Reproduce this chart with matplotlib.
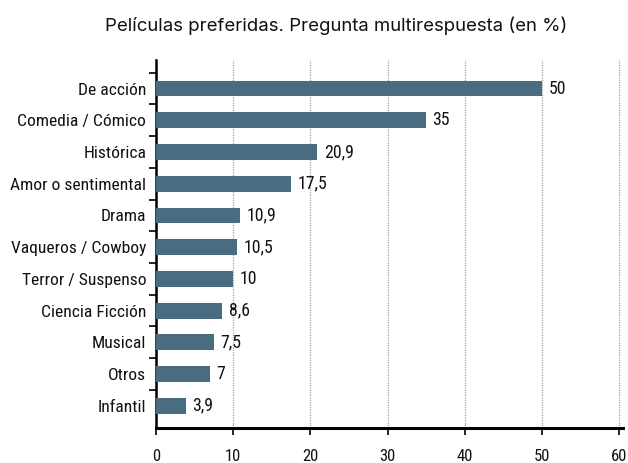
import matplotlib
matplotlib.use("Agg")
import matplotlib.pyplot as plt
from matplotlib.ticker import FixedLocator
import logging

logging.getLogger("matplotlib.font_manager").setLevel(logging.ERROR)

categories = ["De acción", "Comedia / Cómico", "Histórica", "Amor o sentimental",
              "Drama", "Vaqueros / Cowboy", "Terror / Suspenso", "Ciencia Ficción",
              "Musical", "Otros", "Infantil"]
values = [50, 35, 20.9, 17.5, 10.9, 10.5, 10, 8.6, 7.5, 7, 3.9]
value_labels = ["50", "35", "20,9", "17,5", "10,9", "10,5", "10", "8,6", "7,5", "7", "3,9"]
x_ticks = [0, 10, 20, 30, 40, 50, 60]
title = "Películas preferidas. Pregunta multirespuesta (en %)"

narrow = ["Liberation Sans Narrow", "Roboto Condensed", "Archivo Narrow", "DejaVu Sans"]
bar_color = "#486d80"
text_color = "#111111"

fig = plt.figure(figsize=(6.28, 4.63), dpi=100)
ax = fig.add_axes([0.2484, 0.0756, 0.992 - 0.2484, 0.8704 - 0.0756])

pos = list(range(len(categories)))
ax.barh(pos, values, height=0.5, color=bar_color, zorder=3)

ax.set_xlim(0, 60.45)
ax.set_ylim(10.7, -0.9)

for p, v, lab in zip(pos, values, value_labels):
    ax.annotate(lab, xy=(v, p), xytext=(4.5, 0), textcoords="offset points",
                va="center", ha="left", fontsize=12.8, family=narrow, color=text_color)

ax.set_yticks(pos)
ax.set_yticklabels(categories, family=narrow, fontsize=12.6, color=text_color)
ax.tick_params(axis="y", which="major", length=0, pad=7)
ax.yaxis.set_minor_locator(FixedLocator([p - 0.5 for p in pos]))
ax.tick_params(axis="y", which="minor", length=5, width=1.2, direction="out", color="black")

ax.set_xticks(x_ticks)
ax.set_xticklabels([str(t) for t in x_ticks], family=narrow, fontsize=12, color=text_color)
ax.tick_params(axis="x", length=5, width=1.2, direction="out", pad=10)

ax.grid(axis="x", linestyle=(0, (1, 1)), color="#a0a0a0", linewidth=0.9, zorder=0)
ax.set_axisbelow(True)

for s in ["top", "right"]:
    ax.spines[s].set_visible(False)
ax.spines["left"].set_linewidth(1.8)
ax.spines["bottom"].set_linewidth(2.2)

fig.text(0.535, 0.944, title, ha="center", va="center", fontsize=13.4,
         family=["Inter", "Liberation Sans", "DejaVu Sans"], color=text_color)

fig.savefig("out.png", dpi=100)
